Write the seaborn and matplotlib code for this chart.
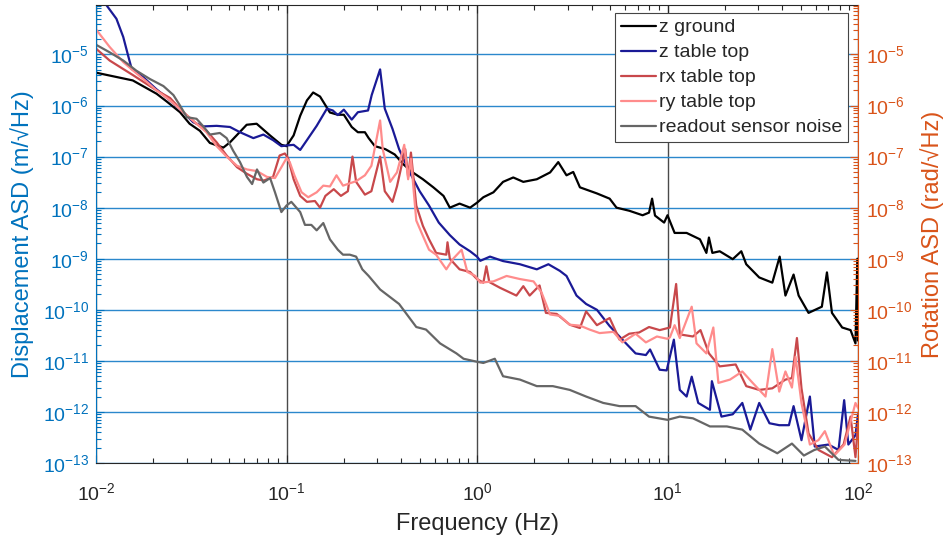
import numpy as np
import pandas as pd
import matplotlib
matplotlib.use("Agg")
import matplotlib.pyplot as plt
import seaborn as sns
from matplotlib.ticker import LogLocator, LogFormatterMathtext, NullFormatter

# ---------------- data ----------------
series_names = ["z ground", "z table top", "rx table top", "ry table top", "readout sensor noise"]

z_ground_f = [0.01, 0.0156, 0.0208, 0.0235, 0.0276, 0.031, 0.0351, 0.0396, 0.0466, 0.0505,
              0.0618, 0.0697, 0.0819, 0.094, 0.1, 0.109, 0.118, 0.128, 0.138, 0.15,
              0.169, 0.186, 0.2, 0.22, 0.237, 0.258, 0.27, 0.291, 0.33, 0.37,
              0.41, 0.46, 0.52, 0.59, 0.667, 0.72, 0.81, 0.92, 1.0, 1.08,
              1.22, 1.37, 1.55, 1.75, 2.06, 2.42, 2.67, 2.95, 3.2, 3.47,
              4.26, 4.97, 5.4, 6.3, 7.4, 8.0, 8.3, 8.6, 9.6, 10.0,
              10.9, 12.6, 14.8, 16.0, 16.5, 17.2, 18.8, 22.0, 24.4, 25.9,
              30.3, 35.5, 38.8, 41.6, 45.9, 48.8, 55.0, 64.6, 68.7, 73.0,
              82.6, 91.4, 97.0, 99.2, 100.0]
z_ground_v = [4.4e-6, 3.1e-6, 1.7e-6, 1.2e-6, 7.4e-7, 4.4e-7, 3.2e-7, 1.85e-7, 1.5e-7, 1.9e-7,
              4.2e-7, 4.4e-7, 2.6e-7, 1.7e-7, 1.6e-7, 2.6e-7, 6.3e-7, 1.26e-6, 1.8e-6, 1.5e-6,
              7.3e-7, 6.6e-7, 6.6e-7, 3.8e-7, 3.0e-7, 3.0e-7, 2.3e-7, 1.6e-7, 1.4e-7, 1.1e-7,
              7.1e-8, 4.9e-8, 3.6e-8, 2.5e-8, 1.7e-8, 1.0e-8, 1.2e-8, 1.0e-8, 1.25e-8, 1.6e-8,
              2.0e-8, 3.2e-8, 3.9e-8, 3.2e-8, 3.6e-8, 4.9e-8, 7.8e-8, 4.3e-8, 5.0e-8, 2.5e-8,
              1.9e-8, 1.5e-8, 1.0e-8, 8.7e-9, 7.1e-9, 8.0e-9, 1.5e-8, 7.0e-9, 5.1e-9, 7.1e-9,
              3.2e-9, 3.2e-9, 2.4e-9, 1.3e-9, 2.6e-9, 1.3e-9, 1.4e-9, 9.8e-10, 1.4e-9, 7.8e-10,
              4.3e-10, 3.4e-10, 1.1e-9, 1.9e-10, 4.9e-10, 1.9e-10, 8.7e-11, 1.15e-10, 5.4e-10, 8.7e-11,
              4.5e-11, 4.0e-11, 2.2e-11, 1.0e-9, 2.5e-11]

z_table_f = [0.01, 0.0114, 0.0128, 0.0139, 0.0148, 0.0154, 0.0177, 0.0207, 0.0245, 0.0287,
             0.0324, 0.0366, 0.043, 0.0505, 0.057, 0.067, 0.0756, 0.085, 0.094, 0.1,
             0.109, 0.118, 0.128, 0.144, 0.163, 0.175, 0.186, 0.2, 0.22, 0.237,
             0.268, 0.28, 0.31, 0.328, 0.36, 0.39, 0.44, 0.5, 0.56, 0.63,
             0.72, 0.81, 0.92, 1.0, 1.04, 1.17, 1.37, 1.68, 2.06, 2.37,
             2.72, 2.95, 3.33, 3.74, 4.26, 4.97, 5.8, 6.8, 7.7, 8.1,
             9.1, 9.9, 10.8, 11.6, 12.6, 13.4, 14.5, 16.7, 17.1, 19.2,
             22.0, 24.7, 27.2, 30.3, 34.3, 38.6, 43.4, 45.9, 50.5, 55.9,
             59.3, 70.0, 79.0, 84.6, 89.0, 97.0, 100.0]
z_table_v = [2.5e-4, 9e-5, 5e-5, 2.2e-5, 9e-6, 5.2e-6, 3.6e-6, 2.1e-6, 1.26e-6, 7.4e-7,
             4.7e-7, 3.9e-7, 4.0e-7, 3.8e-7, 3.0e-7, 2.3e-7, 2.7e-7, 2.1e-7, 1.6e-7, 1.65e-7,
             1.7e-7, 1.35e-7, 2.1e-7, 4.0e-7, 8.7e-7, 8.0e-7, 6.5e-7, 8.3e-7, 5.3e-7, 7.4e-7,
             8.0e-7, 1.6e-6, 5.1e-6, 8.7e-7, 3.5e-7, 1.4e-7, 5.2e-8, 2.1e-8, 1.1e-8, 5.1e-9,
             2.9e-9, 1.9e-9, 1.4e-9, 1.1e-9, 9.1e-10, 1.1e-9, 9e-10, 7.8e-10, 6.2e-10, 7.8e-10,
             5.8e-10, 4.6e-10, 1.9e-10, 1.3e-10, 1.0e-10, 4.8e-11, 2.6e-11, 1.4e-11, 1.3e-11, 1.67e-11,
             6.7e-12, 6.5e-12, 2.6e-11, 2.7e-12, 2.0e-12, 4.9e-12, 1.5e-12, 1.1e-12, 4.0e-12, 8.1e-13,
             9e-13, 1.5e-12, 4.5e-13, 1.5e-12, 6e-13, 5.5e-13, 5.5e-13, 1.3e-12, 2.8e-13, 2.0e-12,
             2.1e-13, 2.3e-13, 1.8e-13, 1.7e-12, 2.3e-13, 3.5e-13, 9e-13]

rx_table_f = [0.01, 0.0118, 0.0157, 0.0207, 0.0245, 0.0287, 0.0337, 0.038, 0.043, 0.0485,
              0.055, 0.062, 0.07, 0.076, 0.085, 0.092, 0.098, 0.102, 0.109, 0.118,
              0.128, 0.141, 0.15, 0.16, 0.177, 0.193, 0.21, 0.222, 0.232, 0.258,
              0.279, 0.31, 0.328, 0.36, 0.38, 0.42, 0.435, 0.45, 0.48, 0.52,
              0.56, 0.61, 0.69, 0.70, 0.72, 0.81, 0.92, 1.0, 1.08, 1.12,
              1.16, 1.32, 1.61, 1.75, 1.89, 2.13, 2.3, 2.62, 3.07, 3.47,
              3.74, 4.26, 4.97, 5.6, 6.3, 7.1, 8.0, 9.1, 10.3, 11.1,
              11.6, 13.6, 14.9, 16.5, 18.8, 22.8, 25.9, 30.3, 35.5, 41.6,
              45.0, 47.8, 50.5, 55.0, 62.0, 73.0, 84.0, 91.4, 97.0, 100.0]
rx_table_v = [1.3e-5, 7.6e-6, 3.9e-6, 2.0e-6, 1.4e-6, 7.4e-7, 4.4e-7, 3.2e-7, 1.9e-7, 1.05e-7,
              6.2e-8, 4.6e-8, 3.6e-8, 3.4e-8, 4.0e-8, 1.05e-7, 1.15e-7, 9.3e-8, 3.6e-8, 1.7e-8,
              1.3e-8, 1.35e-8, 1.0e-8, 1.7e-8, 2.3e-8, 1.7e-8, 2.1e-8, 1.0e-7, 3.2e-8, 1.8e-8,
              2.1e-8, 1.0e-7, 2.1e-8, 1.3e-8, 2.6e-8, 1.4e-7, 4.0e-8, 1.2e-7, 1.1e-8, 4.4e-9,
              2.4e-9, 1.3e-9, 1.2e-9, 2.1e-9, 1.0e-9, 6.2e-10, 5.5e-10, 4.0e-10, 3.4e-10, 7.1e-10,
              3.5e-10, 2.7e-10, 1.9e-10, 2.9e-10, 1.9e-10, 3.0e-10, 8.7e-11, 8.3e-11, 5.1e-11, 4.4e-11,
              9.3e-11, 5.0e-11, 6.9e-11, 2.6e-11, 3.4e-11, 3.6e-11, 4.6e-11, 4.0e-11, 4.5e-11, 3.2e-10,
              3.3e-11, 3.0e-11, 4.0e-11, 1.4e-11, 7.8e-12, 8.5e-12, 3.2e-12, 2.7e-12, 2.9e-12, 4.3e-12,
              4.6e-12, 2.8e-11, 2.9e-12, 3.8e-13, 1.8e-13, 1.3e-13, 2.3e-13, 8.1e-13, 1.3e-13, 6e-13]

ry_table_f = [0.01, 0.0118, 0.0139, 0.0157, 0.0185, 0.0207, 0.0245, 0.0287, 0.0337, 0.038,
              0.043, 0.0485, 0.055, 0.062, 0.07, 0.079, 0.087, 0.094, 0.1, 0.104,
              0.11, 0.12, 0.13, 0.144, 0.156, 0.169, 0.183, 0.198, 0.215, 0.232,
              0.258, 0.279, 0.29, 0.31, 0.32, 0.35, 0.38, 0.415, 0.435, 0.45,
              0.48, 0.52, 0.56, 0.61, 0.69, 0.75, 0.83, 0.89, 0.98, 1.04,
              1.22, 1.43, 1.68, 1.98, 2.18, 2.42, 2.72, 3.07, 3.47, 3.9,
              4.4, 5.2, 5.8, 6.8, 7.7, 8.8, 10.0, 10.3, 10.9, 11.6,
              13.4, 14.2, 16.0, 17.4, 18.5, 21.3, 24.7, 28.0, 32.7, 35.5,
              38.6, 41.6, 45.0, 47.0, 50.5, 55.9, 62.0, 67.0, 75.0, 85.0,
              97.0, 100.0]
ry_table_v = [3.1e-5, 1.4e-5, 7.1e-6, 4.8e-6, 2.9e-6, 2.0e-6, 1.26e-6, 7.4e-7, 4.4e-7, 3.0e-7,
              1.6e-7, 1.0e-7, 6.6e-8, 5.6e-8, 5.2e-8, 4.0e-8, 3.8e-8, 6.2e-8, 9.3e-8, 7.8e-8,
              4.3e-8, 2.0e-8, 1.6e-8, 2.0e-8, 2.7e-8, 2.6e-8, 4.3e-8, 2.7e-8, 3.0e-8, 3.3e-8,
              4.3e-8, 6.6e-8, 1.4e-7, 5.1e-7, 1.4e-7, 3.2e-8, 4.9e-8, 1.7e-7, 3.6e-8, 9e-8,
              5.6e-9, 2.8e-9, 1.5e-9, 1.2e-9, 6.2e-10, 1.0e-9, 1.5e-9, 5.5e-10, 4.6e-10, 3.4e-10,
              3.6e-10, 4.6e-10, 4.0e-10, 3.6e-10, 2.2e-10, 8.1e-11, 7.6e-11, 5.1e-11, 4.9e-11, 4.1e-11,
              3.5e-11, 3.7e-11, 2.3e-11, 3.4e-11, 2.3e-11, 3.0e-11, 2.7e-11, 2.9e-11, 5e-11, 2.8e-11,
              1.15e-10, 2.2e-11, 1.4e-11, 4.5e-11, 3.7e-12, 4.3e-12, 6.2e-12, 3.7e-12, 2.0e-12, 1.7e-11,
              2.5e-12, 6.2e-12, 3.0e-12, 1.2e-11, 1.5e-12, 2.3e-13, 2.8e-13, 4.2e-13, 1.4e-13, 2.3e-13,
              1.5e-12, 1.2e-12]

readout_f = [0.01, 0.0118, 0.0139, 0.0163, 0.0192, 0.0226, 0.0255, 0.0276, 0.03, 0.0337,
             0.0366, 0.0396, 0.0447, 0.0485, 0.0525, 0.057, 0.062, 0.066, 0.07, 0.0756,
             0.082, 0.087, 0.094, 0.1, 0.106, 0.118, 0.125, 0.135, 0.144, 0.156,
             0.169, 0.186, 0.198, 0.215, 0.232, 0.25, 0.27, 0.31, 0.39, 0.48,
             0.54, 0.64, 0.78, 0.85, 1.0, 1.08, 1.24, 1.37, 1.68, 2.06,
             2.5, 3.07, 3.74, 4.6, 5.6, 6.8, 8.0, 10.0, 11.6, 13.6,
             16.7, 20.5, 24.7, 30.3, 37.7, 45.0, 52.0, 59.0, 67.0, 79.0,
             97.0]
readout_v = [1.55e-5, 1.1e-5, 7.6e-6, 4.8e-6, 3.3e-6, 2.4e-6, 1.6e-6, 1.0e-6, 5.9e-7, 5.5e-7,
             3.9e-7, 2.7e-7, 2.9e-7, 2.3e-7, 1.3e-7, 7.8e-8, 4.0e-8, 2.9e-8, 5.6e-8, 3.1e-8,
             3.8e-8, 2.0e-8, 8.2e-9, 1.1e-8, 1.3e-8, 8.2e-9, 4.6e-9, 4.6e-9, 3.6e-9, 5.0e-9,
             2.4e-9, 1.5e-9, 1.2e-9, 1.2e-9, 1.1e-9, 6.2e-10, 4.6e-10, 2.5e-10, 1.3e-10, 4.6e-11,
             4.1e-11, 2.2e-11, 1.4e-11, 1.1e-11, 9.6e-12, 9.1e-12, 1.1e-11, 5.0e-12, 4.3e-12, 3.2e-12,
             3.2e-12, 2.7e-12, 2.0e-12, 1.5e-12, 1.3e-12, 1.3e-12, 8.1e-13, 7e-13, 8.1e-13, 7.5e-13,
             5.2e-13, 5.2e-13, 4.5e-13, 2.4e-13, 1.55e-13, 2.4e-13, 1.4e-13, 1.8e-13, 2.1e-13, 1.15e-13,
             1.1e-13]

x_ticks = [1e-2, 1e-1, 1e0, 1e1, 1e2]
y_limits = (1e-13, 9.3e-5)

# ---------------- style ----------------
sns.set_theme(style="white")
plt.rcParams["font.family"] = ["Liberation Sans", "DejaVu Sans"]
plt.rcParams["mathtext.fontset"] = "custom"
plt.rcParams["mathtext.rm"] = "Liberation Sans"
plt.rcParams["mathtext.it"] = "Liberation Sans:italic"
plt.rcParams["mathtext.bf"] = "Liberation Sans:bold"

BLUE = "#0072BD"
ORANGE = "#D95319"
DARK = "#262626"
colors = ["#000000", "#1a1a96", "#c8484b", "#ff8c8c", "#666666"]

frames = []
for name, f, v in zip(series_names,
                      [z_ground_f, z_table_f, rx_table_f, ry_table_f, readout_f],
                      [z_ground_v, z_table_v, rx_table_v, ry_table_v, readout_v]):
    frames.append(pd.DataFrame({"freq": f, "asd": v, "series": name}))
df = pd.concat(frames, ignore_index=True)

fig = plt.figure(figsize=(9.47, 5.37), dpi=100)
ax = fig.add_axes([96 / 947, 74 / 537, 762 / 947, 458 / 537])

ax.set_xscale("log")
ax.set_yscale("log")
ax.set_xlim(1e-2, 1e2)
ax.set_ylim(*y_limits)

# grid lines
ax.set_axisbelow(True)
ax.yaxis.grid(True, which="major", color="#2b88cc", lw=1.0)
ax.xaxis.grid(True, which="major", color="#4a4a4a", lw=1.0)

for name, col in zip(series_names, colors):
    sns.lineplot(data=df[df["series"] == name], x="freq", y="asd", ax=ax,
                 color=col, lw=1.6, label=name, estimator=None, sort=False, legend=False)

ax.set_xlim(1e-2, 1e2)
ax.set_ylim(*y_limits)

# ticks
ax.set_xticks(x_ticks)
ax.xaxis.set_major_formatter(LogFormatterMathtext())
ax.xaxis.set_minor_locator(LogLocator(base=10, subs=np.arange(2, 10), numticks=20))
ax.xaxis.set_minor_formatter(NullFormatter())
ax.yaxis.set_major_locator(LogLocator(base=10, numticks=30))
ax.yaxis.set_minor_locator(LogLocator(base=10, subs=np.arange(2, 10), numticks=30))
ax.yaxis.set_minor_formatter(NullFormatter())
ax.yaxis.set_major_formatter(LogFormatterMathtext())

ax.tick_params(axis="x", which="both", direction="in", top=True, bottom=True,
               color=DARK, labelcolor=DARK, labelsize=14, pad=14)
ax.tick_params(axis="x", which="major", length=6, width=0.8)
ax.tick_params(axis="x", which="minor", length=3.5, width=0.8)
ax.tick_params(axis="y", which="both", direction="in", left=True, right=False,
               color=BLUE, labelcolor=BLUE, labelsize=14, pad=5)
ax.tick_params(axis="y", which="major", length=6, width=0.8)
ax.tick_params(axis="y", which="minor", length=3.5, width=0.8)

for s in ["top", "bottom"]:
    ax.spines[s].set_color(DARK)
    ax.spines[s].set_linewidth(0.8)
ax.spines["left"].set_color(BLUE)
ax.spines["left"].set_linewidth(0.8)
ax.spines["right"].set_visible(False)

ax.set_xlabel("Frequency (Hz)", fontsize=17, color=DARK, labelpad=6)
ax.set_ylabel("Displacement ASD (m/\u221aHz)", fontsize=17, color=BLUE, labelpad=6)

# right axis
ax2 = ax.twinx()
ax2.set_yscale("log")
ax2.set_ylim(*y_limits)
ax2.yaxis.set_major_locator(LogLocator(base=10, numticks=30))
ax2.yaxis.set_minor_locator(LogLocator(base=10, subs=np.arange(2, 10), numticks=30))
ax2.yaxis.set_minor_formatter(NullFormatter())
ax2.yaxis.set_major_formatter(LogFormatterMathtext())
ax2.tick_params(axis="y", which="both", direction="in", right=True, left=False,
                color=ORANGE, labelcolor=ORANGE, labelsize=14, pad=6)
ax2.tick_params(axis="y", which="major", length=6, width=0.8)
ax2.tick_params(axis="y", which="minor", length=3.5, width=0.8)
for s in ["top", "bottom", "left"]:
    ax2.spines[s].set_visible(False)
ax2.spines["right"].set_color(ORANGE)
ax2.spines["right"].set_linewidth(0.8)
ax2.set_ylabel("Rotation ASD (rad/\u221aHz)", fontsize=17, color=ORANGE, labelpad=5)

handles, labels = ax.get_legend_handles_labels()
leg = ax2.legend(handles, labels, loc="upper right",
                 bbox_to_anchor=(848 / 947, 1 - 13 / 537), bbox_transform=fig.transFigure,
                 borderaxespad=0, fontsize=14, frameon=True, fancybox=False,
                 framealpha=1, edgecolor="#444444", handlelength=1.8,
                 handletextpad=0.15, labelspacing=0.38, borderpad=0.3)
leg.get_frame().set_linewidth(0.8)

fig.savefig("out.png", dpi=100)
